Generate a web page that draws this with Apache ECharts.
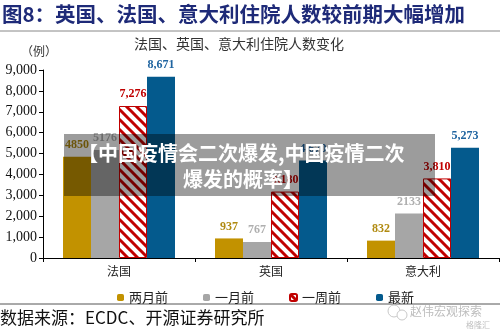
<!DOCTYPE html>
<html><head><meta charset="utf-8">
<script src="https://cdn.jsdelivr.net/npm/echarts@6/dist/echarts.min.js"></script>
<style>html,body{margin:0;padding:0;background:#fff}#c{width:500px;height:331px}</style>
</head><body><div id="c"></div>
<script>
const categories = ['法国', '英国', '意大利'];
const twoMonthsAgo = [4850, 937, 832];
const oneMonthAgo = [5176, 767, 2133];
const oneWeekAgo = [7276, 3180, 3810];
const latest = [8671, 4670, 5273];
const seriesNames = ['两月前', '一月前', '一周前', '最新'];
const yTicks = { min: 0, max: 9000, interval: 1000 };

function hatch() {
  const c = document.createElement('canvas'); c.width = 10; c.height = 10;
  const g = c.getContext('2d');
  g.fillStyle = '#fff'; g.fillRect(0, 0, 10, 10);
  g.strokeStyle = '#C00000'; g.lineWidth = 3;
  g.beginPath();
  g.moveTo(-5, -5); g.lineTo(15, 15);
  g.moveTo(-5, 5); g.lineTo(5, 15);
  g.moveTo(5, -5); g.lineTo(15, 5);
  g.stroke();
  return c;
}
const serif = '"Liberation Serif", "Noto Sans CJK SC", serif';
const cjk = '"Noto Sans CJK SC", sans-serif';
const fmtComma = p => p.value.toLocaleString('en-US');
const fmtPlain = p => String(p.value);
function lbl(color, fmt) {
  return { show: true, position: 'top', distance: 6, color: color, fontFamily: serif, fontWeight: 'bold', fontSize: 12, formatter: fmt };
}
const chart = echarts.init(document.getElementById('c'));
chart.setOption({
  animation: false,
  grid: { left: 43, right: 1, top: 70, bottom: 73, containLabel: false },
  legend: {
    data: seriesNames, left: 112, top: 286, itemWidth: 7, itemHeight: 7, itemGap: 35,
    textStyle: { fontFamily: cjk, fontSize: 13, color: '#222' }
  },
  xAxis: {
    type: 'category', data: categories,
    axisLine: { lineStyle: { color: '#000', width: 1 } },
    axisTick: { show: true, length: 4, lineStyle: { color: '#000' } },
    axisLabel: { fontFamily: cjk, fontSize: 12, color: '#222', margin: 7 }
  },
  yAxis: {
    type: 'value', min: yTicks.min, max: yTicks.max, interval: yTicks.interval,
    splitLine: { show: false },
    axisLine: { show: true, lineStyle: { color: '#000' } },
    axisTick: { show: true, length: 4, lineStyle: { color: '#000' } },
    axisLabel: { fontFamily: serif, fontSize: 14, color: '#111', margin: 6, formatter: v => v.toLocaleString('en-US') }
  },
  series: [
    { name: seriesNames[0], type: 'bar', data: twoMonthsAgo, barWidth: 28, barGap: '0%', itemStyle: { color: '#C29200' }, label: lbl('#B08A10', fmtPlain) },
    { name: seriesNames[1], type: 'bar', data: oneMonthAgo, barWidth: 28, barGap: '0%', itemStyle: { color: '#A6A6A6' }, label: lbl('#AFAFAF', fmtPlain) },
    { name: seriesNames[2], type: 'bar', data: oneWeekAgo, barWidth: 28, barGap: '0%', itemStyle: { color: { image: hatch(), repeat: 'repeat' }, borderColor: '#C00000', borderWidth: 1 }, label: lbl('#C00000', fmtComma) },
    { name: seriesNames[3], type: 'bar', data: latest, barWidth: 28, barGap: '0%', itemStyle: { color: '#045A8D' }, label: lbl('#1F64A0', fmtComma) }
  ],
  graphic: [
    { type: 'text', left: 2, top: 4, style: { text: '图8：英国、法国、意大利住院人数较前期大幅增加', fontFamily: cjk, fontWeight: 'bold', fontSize: 20.5, fill: '#1E2A78' } },
    { type: 'line', shape: { x1: 0, y1: 31, x2: 500, y2: 31 }, style: { stroke: '#888', lineWidth: 1 } },
    { type: 'text', x: 239, y: 44, style: { text: '法国、英国、意大利住院人数变化', fontFamily: cjk, fontSize: 14, fill: '#333', align: 'center', verticalAlign: 'middle' } },
    { type: 'text', x: 21, y: 51, style: { text: '（例）', fontFamily: cjk, fontSize: 12, fill: '#333', verticalAlign: 'middle' } },
    { type: 'line', shape: { x1: 0, y1: 304, x2: 500, y2: 304 }, style: { stroke: '#555', lineWidth: 1 } },
    { type: 'text', x: 0, y: 318, style: { text: '数据来源：ECDC、开源证券研究所', fontFamily: '"Noto Sans CJK SC", "Liberation Serif", sans-serif', fontSize: 17, fill: '#111', verticalAlign: 'middle' } },
    { type: 'circle', shape: { cx: 394, cy: 311, r: 6 }, style: { fill: 'none', stroke: '#c8c8c8', lineWidth: 1 } },
    { type: 'circle', shape: { cx: 402, cy: 315, r: 5 }, style: { fill: '#fff', stroke: '#c8c8c8', lineWidth: 1 } },
    { type: 'text', x: 410, y: 311, style: { text: '赵伟宏观探索', fontFamily: cjk, fontSize: 12, fill: '#bdbdbd', verticalAlign: 'middle' } },
    { type: 'text', x: 466, y: 325, style: { text: '格隆汇', fontFamily: cjk, fontSize: 8, fill: '#c0c0c0', verticalAlign: 'middle' } },
    { type: 'rect', z: 100, shape: { x: 64, y: 134, width: 371, height: 62 }, style: { fill: 'rgba(0,0,0,0.39)' } },
    { type: 'text', z: 101, x: 78, y: 153, style: { text: '【中国疫情会二次爆发,中国疫情二次', fontFamily: cjk, fontWeight: 'bold', fontSize: 20, fill: '#fff', verticalAlign: 'middle' } },
    { type: 'text', z: 101, x: 183, y: 179, style: { text: '爆发的概率】', fontFamily: cjk, fontWeight: 'bold', fontSize: 20, fill: '#fff', verticalAlign: 'middle' } }
  ]
});
</script></body></html>
